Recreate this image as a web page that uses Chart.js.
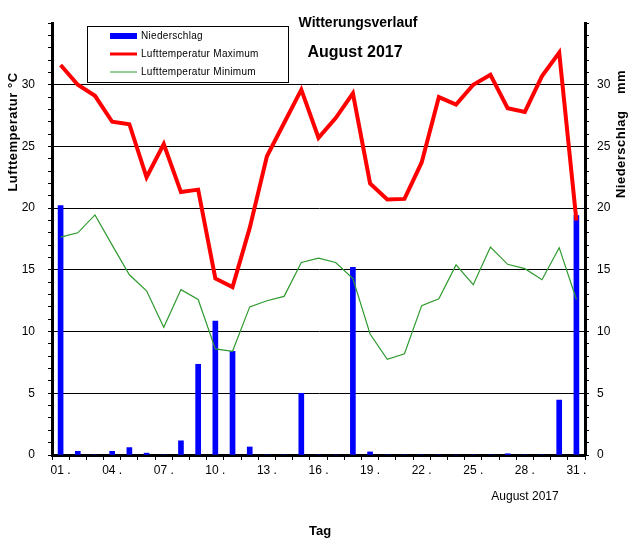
<!DOCTYPE html>
<html>
<head>
<meta charset="utf-8">
<script src="https://cdn.jsdelivr.net/npm/chart.js@4/dist/chart.umd.min.js"></script>
<style>
html,body{margin:0;padding:0;background:#fff;}
#wrap{position:relative;width:634px;height:556px;}
</style>
</head>
<body>
<div id="wrap"><canvas id="c" width="634" height="556"></canvas></div>
<script>
const days = ['01','02','03','04','05','06','07','08','09','10','11','12','13','14','15','16','17','18','19','20','21','22','23','24','25','26','27','28','29','30','31'];
const niederschlag = [20.2,0.3,0,0.3,0.6,0.15,0,1.15,7.35,10.85,8.4,0.65,0,0,5.0,0,0,15.2,0.25,0,0,0,0,0,0,0,0.1,0,0,4.45,19.4];
const tempMax = [31.6,30.0,29.1,27.0,26.8,22.5,25.2,21.3,21.5,14.3,13.6,18.4,24.2,26.9,29.6,25.7,27.3,29.3,22.0,20.7,20.75,23.7,29.0,28.4,30.0,30.8,28.1,27.8,30.7,32.6,19.0];
const tempMin = [17.65,18.0,19.45,17.0,14.6,13.3,10.35,13.4,12.6,8.6,8.4,12.0,12.5,12.85,15.6,15.95,15.6,14.3,9.8,7.75,8.2,12.1,12.65,15.4,13.8,16.85,15.45,15.1,14.2,16.8,12.6];
const yMax = 35;
const majorStep = 5;

const FONT = '"Liberation Sans", Arial, sans-serif';

const decor = {
  id: 'decor',
  afterDraw(chart) {
    const ctx = chart.ctx;
    ctx.save();
    ctx.fillStyle = '#000';
    // titles
    ctx.textAlign = 'center';
    ctx.textBaseline = 'middle';
    ctx.font = 'bold 14px ' + FONT;
    ctx.fillText('Witterungsverlauf', 358, 23);
    ctx.font = 'bold 16px ' + FONT;
    ctx.fillText('August 2017', 355, 53);
    // axis titles
    ctx.font = 'bold 13px ' + FONT;
    try { ctx.letterSpacing = '0.5px'; } catch (e) {}
    ctx.save();
    ctx.translate(13, 132);
    ctx.rotate(-Math.PI / 2);
    ctx.fillText('Lufttemperatur °C', 0, 0);
    ctx.restore();
    ctx.save();
    ctx.translate(621, 134);
    ctx.rotate(-Math.PI / 2);
    ctx.fillText('Niederschlag    mm', 0, 0);
    ctx.restore();
    try { ctx.letterSpacing = '0px'; } catch (e) {}
    // bottom texts
    ctx.font = 'bold 13px ' + FONT;
    ctx.fillText('Tag', 320, 531);
    ctx.font = '12px ' + FONT;
    ctx.fillText('August 2017', 525, 497);
    // legend
    ctx.strokeStyle = '#000';
    ctx.lineWidth = 1;
    ctx.strokeRect(87.5, 26.5, 201, 56);
    const items = [
      {t: 'Niederschlag', c: '#0000ff', w: 6, y: 36},
      {t: 'Lufttemperatur Maximum', c: '#ff0000', w: 3, y: 54},
      {t: 'Lufttemperatur Minimum', c: '#2e9a2e', w: 1, y: 72}
    ];
    ctx.textAlign = 'left';
    ctx.font = '10px ' + FONT;
    try { ctx.letterSpacing = '0.3px'; } catch (e) {}
    items.forEach(it => {
      ctx.strokeStyle = it.c;
      ctx.lineWidth = it.w;
      ctx.beginPath();
      ctx.moveTo(110, it.y);
      ctx.lineTo(137, it.y);
      ctx.stroke();
      ctx.fillStyle = '#000';
      ctx.fillText(it.t, 141, it.y);
    });
    ctx.restore();
  }
};

const yTickCb = (v) => (v % majorStep === 0 && v < yMax) ? String(v) : '';
const gridColor = (c) => {
  const v = c.tick ? c.tick.value : null;
  return (v !== null && v % majorStep === 0 && v > 0 && v < yMax) ? '#000' : 'rgba(0,0,0,0)';
};

new Chart(document.getElementById('c'), {
  type: 'bar',
  data: {
    labels: days,
    datasets: [
      {
        type: 'line',
        label: 'Lufttemperatur Maximum',
        data: tempMax,
        borderColor: '#ff0000',
        borderWidth: 4,
        pointRadius: 0,
        tension: 0,
        yAxisID: 'y',
        order: 1
      },
      {
        type: 'line',
        label: 'Lufttemperatur Minimum',
        data: tempMin,
        borderColor: '#2e9a2e',
        borderWidth: 1.2,
        pointRadius: 0,
        tension: 0,
        yAxisID: 'y',
        order: 2
      },
      {
        type: 'bar',
        label: 'Niederschlag',
        data: niederschlag,
        backgroundColor: '#0000ff',
        borderWidth: 0,
        barThickness: 5,
        yAxisID: 'y2',
        order: 3
      }
    ]
  },
  options: {
    responsive: false,
    animation: false,
    devicePixelRatio: 1,
    layout: { padding: { top: 23, left: 0, right: 0, bottom: 0 } },
    plugins: { legend: { display: false }, title: { display: false }, tooltip: { enabled: false } },
    scales: {
      x: {
        type: 'category',
        offset: true,
        grid: { offset: true, drawOnChartArea: false, drawTicks: true, tickLength: 5, color: '#000', lineWidth: 1 },
        border: { color: '#000', width: 3 },
        ticks: {
          autoSkip: false, maxRotation: 0, minRotation: 0, padding: 3, color: '#000',
          font: { size: 12, family: FONT },
          callback: function (v, i) { return i % 3 === 0 ? days[i] + ' .' : ''; }
        },
        afterFit: (s) => { s.height = 101; }
      },
      y: {
        position: 'left',
        min: 0, max: yMax,
        grid: { color: gridColor, tickColor: '#000', tickLength: 4, lineWidth: 1, drawTicks: true },
        border: { color: '#000', width: 3 },
        ticks: { stepSize: 1, autoSkip: false, padding: 13, color: '#000', font: { size: 12, family: FONT }, callback: yTickCb },
        afterFit: (s) => { s.width = 52; }
      },
      y2: {
        position: 'right',
        min: 0, max: yMax,
        grid: { drawOnChartArea: false, tickColor: '#000', tickLength: 4, lineWidth: 1 },
        border: { color: '#000', width: 3 },
        ticks: { stepSize: 1, autoSkip: false, padding: 8, color: '#000', font: { size: 12, family: FONT }, callback: yTickCb },
        afterFit: (s) => { s.width = 49; }
      }
    }
  },
  plugins: [decor]
});
</script>
</body>
</html>
